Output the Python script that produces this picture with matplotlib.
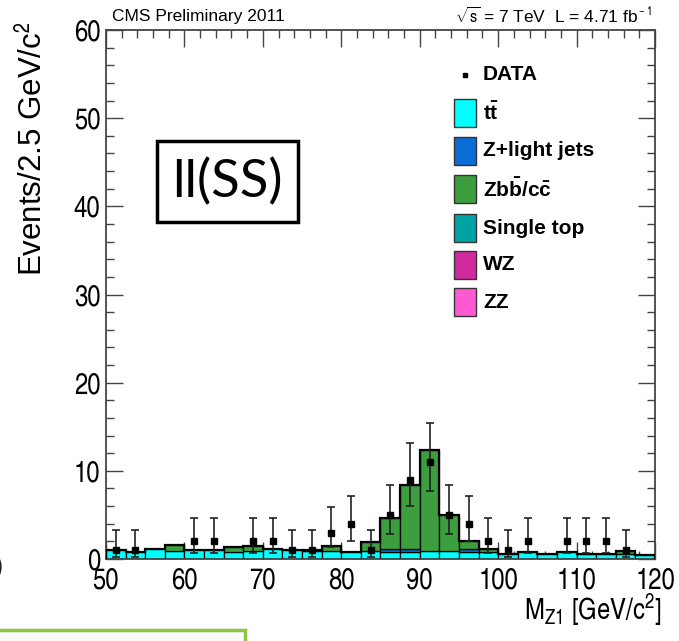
import math
import matplotlib
matplotlib.use("Agg")
import matplotlib.pyplot as plt
from matplotlib import font_manager
from matplotlib.patches import Rectangle
from matplotlib.ticker import MultipleLocator
import numpy as np

# ---------------------------------------------------------------- data
bin_lo = 50.0
bin_width = 2.5
n_bins = 28

data_counts = [1, 1, 0, 0, 2, 2, 0, 2, 2, 1, 1, 3, 4, 1,
               5, 9, 11, 5, 4, 2, 1, 2, 0, 2, 2, 2, 1, 0]

ttbar = [1.00, 0.75, 1.10, 0.88, 1.00, 1.00, 0.85, 0.95, 1.10, 1.00, 0.95, 0.95, 0.85, 0.95,
         0.85, 0.85, 0.90, 0.90, 0.80, 0.85, 0.60, 0.85, 0.62, 0.75, 0.60, 0.55, 0.55, 0.50]
zlight = [0, 0, 0, 0, 0, 0, 0, 0, 0, 0, 0, 0, 0, 0,
          0.30, 0.30, 0, 0, 0.30, 0, 0, 0, 0, 0, 0, 0, 0, 0]
zbb = [0, 0, 0, 0.75, 0, 0, 0.50, 0.48, 0, 0, 0.10, 0.55, 0, 0.95,
       3.45, 7.25, 11.50, 4.05, 0.90, 0.25, 0, 0, 0, 0, 0, 0, 0.33, 0]
single_top = [0.0] * 28
wz = [0.0] * 28
zz = [0.0] * 28

legend_labels = [r"$\mathbf{t\bar{t}}$", "Z+light jets", r"$\mathbf{Zb\bar{b}/c\bar{c}}$",
                 "Single top", "WZ", "ZZ"]
legend_colors = ["#00FFFF", "#0A6ED6", "#3C9E3C", "#00A3A3", "#D02A9E", "#FF5AD2"]

# ---------------------------------------------------------------- fonts
names = {f.name for f in font_manager.fontManager.ttflist}
narrow = None
for cand in ["Liberation Sans Narrow", "Nimbus Sans Narrow", "TeX Gyre Heros Cn",
             "Arial Narrow", "Roboto Condensed"]:
    if cand in names:
        narrow = cand
        break
if narrow is not None:
    axis_font, tick_size, title_size = narrow, 21, 21
else:
    axis_font, tick_size, title_size = "Liberation Sans", 18.5, 17

plt.rcParams["font.family"] = ["Liberation Sans", "DejaVu Sans"]
plt.rcParams["mathtext.fontset"] = "custom"
plt.rcParams["mathtext.rm"] = axis_font
plt.rcParams["mathtext.it"] = axis_font + ":italic"
plt.rcParams["mathtext.bf"] = "Liberation Sans:bold"

W, H = 679, 641
fig = plt.figure(figsize=(W / 100, H / 100), dpi=100)


def fx(px):
    return px / W


def fy(py):
    return 1 - py / H


ax = fig.add_axes([fx(106), fy(559), fx(655) - fx(106), fy(30) - fy(559)])

edges = bin_lo + bin_width * np.arange(n_bins + 1)
centers = 0.5 * (edges[:-1] + edges[1:])

# stacked backgrounds, bottom to top
layers = [(ttbar, legend_colors[0]), (zlight, legend_colors[1]), (zbb, legend_colors[2]),
          (single_top, legend_colors[3]), (wz, legend_colors[4]), (zz, legend_colors[5])]
bottom = np.zeros(n_bins)
for vals, col in layers:
    vals = np.asarray(vals, dtype=float)
    mask = vals > 0
    if mask.any():
        ax.bar(edges[:-1][mask], vals[mask], width=bin_width, bottom=bottom[mask], align="edge",
               color=col, edgecolor="black", linewidth=0.9, zorder=2)
    bottom += vals
ax.stairs(bottom, edges, color="black", linewidth=1.6, zorder=3)


# data with central Poisson intervals
def pois_cdf(n, lam):
    return sum(math.exp(-lam) * lam ** k / math.factorial(k) for k in range(n + 1))


def solve(f, a, b):
    fa = f(a)
    for _ in range(80):
        m = 0.5 * (a + b)
        fm = f(m)
        if (fm > 0) == (fa > 0):
            a, fa = m, fm
        else:
            b = m
    return 0.5 * (a + b)


alpha = 0.5 * (1 - 0.682689)
xs, ys, elo, ehi = [], [], [], []
for c, n in zip(centers, data_counts):
    if n <= 0:
        continue
    up = solve(lambda l: pois_cdf(n, l) - alpha, n, n + 40)
    lo = solve(lambda l: 1 - pois_cdf(n - 1, l) - alpha, 1e-9, n)
    xs.append(c)
    ys.append(n)
    elo.append(n - lo)
    ehi.append(up - n)
ax.errorbar(xs, ys, yerr=[elo, ehi], fmt="s", color="black", markersize=5,
            elinewidth=1.2, ecolor="#222222", capsize=3, capthick=1.2, zorder=5)

# axes cosmetics
ax.set_xlim(50, 120)
ax.set_ylim(0, 60)
ax.xaxis.set_major_locator(MultipleLocator(10))
ax.xaxis.set_minor_locator(MultipleLocator(2))
ax.yaxis.set_major_locator(MultipleLocator(10))
ax.yaxis.set_minor_locator(MultipleLocator(2))
ax.tick_params(which="both", direction="in", top=True, right=True, color="#444444", width=1.0)
ax.tick_params(which="major", length=12, labelsize=tick_size)
ax.tick_params(which="minor", length=6)
ax.tick_params(axis="x", which="major", pad=6)
ax.tick_params(axis="y", which="major", pad=4)
for lab in ax.get_xticklabels() + ax.get_yticklabels():
    lab.set_family(axis_font)
for sp in ax.spines.values():
    sp.set_color("#444444")
    sp.set_linewidth(1.3)

fig.text(fx(662), fy(610), r"M$_{\rm Z1}$ [GeV/c$^{2}$]", ha="right", va="center",
         fontsize=title_size, family=axis_font)
fig.text(fx(33), fy(22), r"Events/2.5 GeV/c$^{2}$", ha="center", va="top", rotation=90,
         fontsize=22.5)
fig.text(fx(112), fy(17), "CMS Preliminary 2011", ha="left", va="center", fontsize=12.5)
fig.text(fx(652), fy(16), r"$\sqrt{\rm s}$ = 7 TeV  L = 4.71 fb$^{\rm -1}$", ha="right", va="center",
         fontsize=12.5)

# legend
fig.add_artist(plt.Line2D([fx(465)], [fy(75)], marker="s", markersize=3.5, color="black",
                          transform=fig.transFigure))
fig.text(fx(483), fy(75), "DATA", ha="left", va="center", fontsize=15, fontweight="bold")
row_y = [113, 151, 189, 228, 265, 302]
for yc, lab, col in zip(row_y, legend_labels, legend_colors):
    fig.add_artist(Rectangle((fx(454), fy(yc + 14)), fx(22), fy(yc - 14) - fy(yc + 14),
                             transform=fig.transFigure, facecolor=col, edgecolor="#333333",
                             linewidth=1.0))
    fig.text(fx(483), fy(yc), lab, ha="left", va="center", fontsize=15, fontweight="bold")

# channel tag
fig.add_artist(Rectangle((fx(157), fy(222)), fx(298) - fx(157), fy(141) - fy(222),
                         transform=fig.transFigure, facecolor="white", edgecolor="black",
                         linewidth=2.5, zorder=6))
fig.text(fx(227), fy(182), "ll(SS)", ha="center", va="center", fontsize=38,
         family=["Lato", "DejaVu Sans"], zorder=7)

# slide fragments around the plot
fig.add_artist(Rectangle((fx(-10), fy(650)), fx(255), fy(630) - fy(650),
                         transform=fig.transFigure, facecolor="#fafafa", edgecolor="#8CC63F",
                         linewidth=2.5))
fig.text(fx(-6), fy(567), ")", ha="left", va="center", fontsize=20, color="#222222")

fig.savefig("out.png", dpi=100)
